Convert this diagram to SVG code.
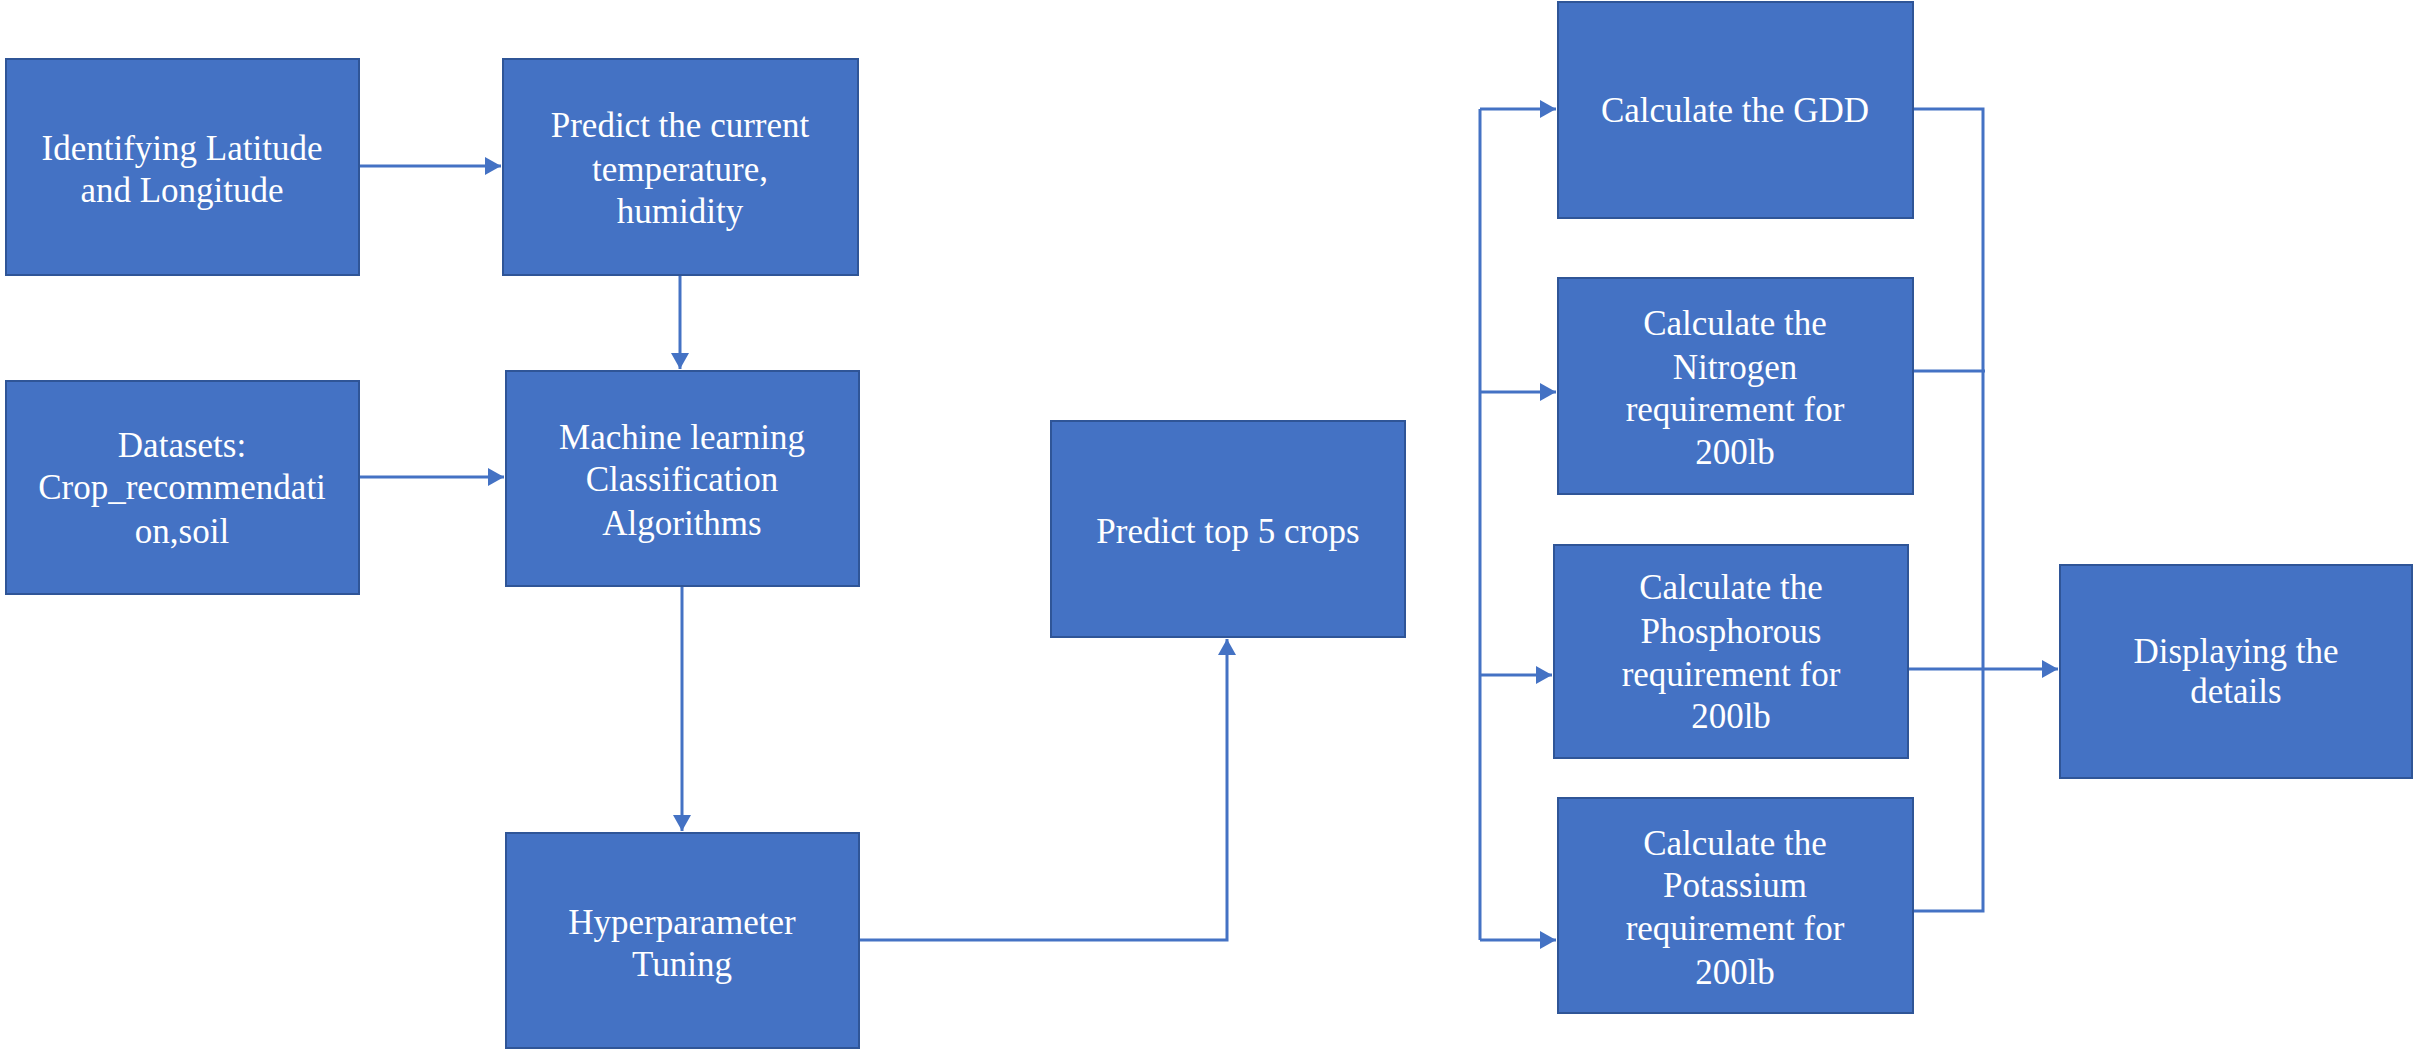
<svg xmlns="http://www.w3.org/2000/svg" width="2420" height="1053" viewBox="0 0 2420 1053">
<style>
.box{fill:#4472C4;stroke:#2F5597;stroke-width:2}
.lbl{font-family:"Liberation Serif","Times New Roman",serif;font-size:35px;fill:#FFFFFF;text-anchor:middle}
.conn{fill:none;stroke:#4472C4;stroke-width:3}
</style>
<defs>
<marker id="ah" markerUnits="userSpaceOnUse" markerWidth="17" markerHeight="19" refX="16" refY="9" orient="auto">
<path d="M0,0 L16,9 L0,18 z" fill="#4472C4"/>
</marker>
</defs>
<rect width="2420" height="1053" fill="#FFFFFF"/>
<g id="connectors">
<path class="conn" d="M359 166 H501" marker-end="url(#ah)"/>
<path class="conn" d="M680 275 V369" marker-end="url(#ah)"/>
<path class="conn" d="M359 477 H504" marker-end="url(#ah)"/>
<path class="conn" d="M682 586 V831" marker-end="url(#ah)"/>
<path class="conn" d="M859 940 H1227 V639" marker-end="url(#ah)"/>
<path class="conn" d="M1480 940 V109"/>
<path class="conn" d="M1480 109 H1556" marker-end="url(#ah)"/>
<path class="conn" d="M1480 392 H1556" marker-end="url(#ah)"/>
<path class="conn" d="M1480 675 H1552" marker-end="url(#ah)"/>
<path class="conn" d="M1480 940 H1556" marker-end="url(#ah)"/>
<path class="conn" d="M1913 109 H1983 V911 H1913"/>
<path class="conn" d="M1913 371 H1985"/>
<path class="conn" d="M1908 669 H2058" marker-end="url(#ah)"/>
</g>
<g id="n1"><rect class="box" x="6" y="59" width="353" height="216"/>
<text class="lbl"><tspan x="182" y="160">Identifying Latitude</tspan><tspan x="182" y="202">and Longitude</tspan></text></g>
<g id="n2"><rect class="box" x="503" y="59" width="355" height="216"/>
<text class="lbl"><tspan x="680" y="137">Predict the current</tspan><tspan x="680" y="181">temperature,</tspan><tspan x="680" y="223">humidity</tspan></text></g>
<g id="n3"><rect class="box" x="6" y="381" width="353" height="213"/>
<text class="lbl"><tspan x="182" y="457">Datasets:</tspan><tspan x="182" y="499">Crop_recommendati</tspan><tspan x="182" y="543">on,soil</tspan></text></g>
<g id="n4"><rect class="box" x="506" y="371" width="353" height="215"/>
<text class="lbl"><tspan x="682" y="449">Machine learning</tspan><tspan x="682" y="491">Classification</tspan><tspan x="682" y="535">Algorithms</tspan></text></g>
<g id="n5"><rect class="box" x="506" y="833" width="353" height="215"/>
<text class="lbl"><tspan x="682" y="934">Hyperparameter</tspan><tspan x="682" y="976">Tuning</tspan></text></g>
<g id="n6"><rect class="box" x="1051" y="421" width="354" height="216"/>
<text class="lbl"><tspan x="1228" y="543">Predict top 5 crops</tspan></text></g>
<g id="n7"><rect class="box" x="1558" y="2" width="355" height="216"/>
<text class="lbl"><tspan x="1735" y="122">Calculate the GDD</tspan></text></g>
<g id="n8"><rect class="box" x="1558" y="278" width="355" height="216"/>
<text class="lbl"><tspan x="1735" y="335">Calculate the</tspan><tspan x="1735" y="379">Nitrogen</tspan><tspan x="1735" y="421">requirement for</tspan><tspan x="1735" y="464">200lb</tspan></text></g>
<g id="n9"><rect class="box" x="1554" y="545" width="354" height="213"/>
<text class="lbl"><tspan x="1731" y="599">Calculate the</tspan><tspan x="1731" y="643">Phosphorous</tspan><tspan x="1731" y="686">requirement for</tspan><tspan x="1731" y="728">200lb</tspan></text></g>
<g id="n10"><rect class="box" x="1558" y="798" width="355" height="215"/>
<text class="lbl"><tspan x="1735" y="855">Calculate the</tspan><tspan x="1735" y="897">Potassium</tspan><tspan x="1735" y="940">requirement for</tspan><tspan x="1735" y="984">200lb</tspan></text></g>
<g id="n11"><rect class="box" x="2060" y="565" width="352" height="213"/>
<text class="lbl"><tspan x="2236" y="663">Displaying the</tspan><tspan x="2236" y="703">details</tspan></text></g>
</svg>
